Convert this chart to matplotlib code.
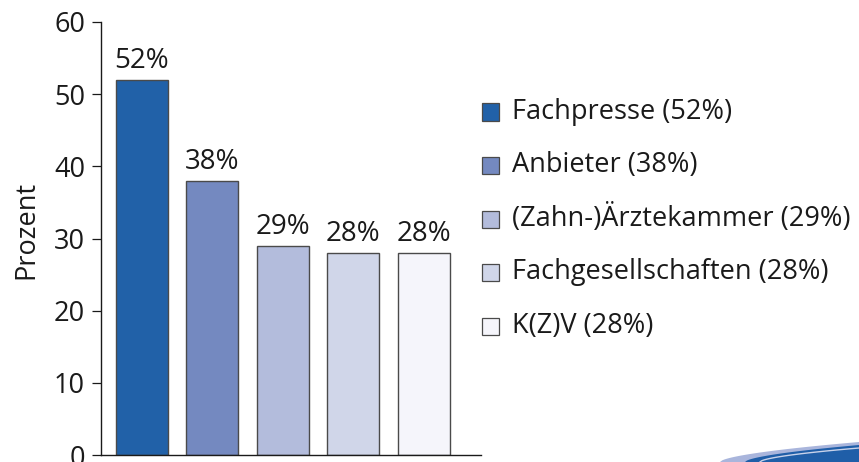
import numpy as np
import matplotlib.pyplot as plt
from matplotlib.patches import Rectangle, Polygon

categories = ['Fachpresse', 'Anbieter', '(Zahn-)Ärztekammer', 'Fachgesellschaften', 'K(Z)V']
values = [52, 38, 29, 28, 28]
colors = ['#2161a8', '#7489c0', '#b3bcdc', '#d0d6e9', '#f5f5fb']
yticks = [0, 10, 20, 30, 40, 50, 60]

plt.rcParams['font.family'] = ['Open Sans', 'DejaVu Sans']

fig = plt.figure(figsize=(8.59, 4.62), dpi=100)
W, H = 859, 462
ax = fig.add_axes([101 / W, 7 / H, 380 / W, 433 / H])

x = np.arange(len(values))
bars = ax.bar(x, values, width=0.74, color=colors, edgecolor='#4a4a4a', linewidth=1.0)
for xi, v in zip(x, values):
    ax.annotate(f'{v}%', (xi, v), xytext=(0, 8.5), textcoords='offset points',
                ha='center', va='baseline', fontsize=20, color='#1a1a1a')

ax.set_xlim(-0.58, 4.81)
ax.set_ylim(0, 60)
ax.set_yticks(yticks)
ax.set_xticks([])
ax.tick_params(axis='y', length=6.5, width=0.9, pad=5, labelsize=19.5, colors='#1a1a1a')
for s in ['top', 'right']:
    ax.spines[s].set_visible(False)
for s in ['left', 'bottom']:
    ax.spines[s].set_linewidth(1.0)
    ax.spines[s].set_color('#1a1a1a')

fig.text(26 / W, 1 - 230 / H, 'Prozent', rotation=90, ha='center', va='center',
         fontsize=19.5, color='#1a1a1a')

# legend, drawn by hand to get the spacing right
for i, (cat, v, c) in enumerate(zip(categories, values, colors)):
    yc = 112 + i * 53.5
    fig.patches.append(Rectangle((482 / W, 1 - (yc + 8.5) / H), 17 / W, 17 / H,
                                 transform=fig.transFigure, facecolor=c,
                                 edgecolor='#4a4a4a', linewidth=0.9))
    fig.text(512 / W, 1 - yc / H, f'{cat} ({v}%)', ha='left', va='center',
             fontsize=19.5, color='#1a1a1a')

# blue swoosh in bottom right corner
def curve(x0, y_right, x_end=859, p=0.6):
    xs = np.linspace(x0, x_end, 60)
    t = (xs - x0) / (x_end - x0)
    ys = 462 - (462 - y_right) * t ** p
    return xs, ys

def band(x0, y_right, color, p=0.6):
    xs, ys = curve(x0, y_right, p=p)
    pts = list(zip(xs / W, 1 - ys / H)) + [(1, 0), (x0 / W, 0)]
    fig.patches.append(Polygon(pts, closed=True, transform=fig.transFigure,
                               facecolor=color, edgecolor='none'))

band(720, 442, '#a9b5dc')
band(745, 445, '#1f5ea8')
xs, ys = curve(760, 448)
fig.lines.append(plt.Line2D(xs / W, 1 - ys / H, transform=fig.transFigure,
                            color='#c8d2ea', linewidth=1.0))

fig.savefig('out.png', dpi=100)
